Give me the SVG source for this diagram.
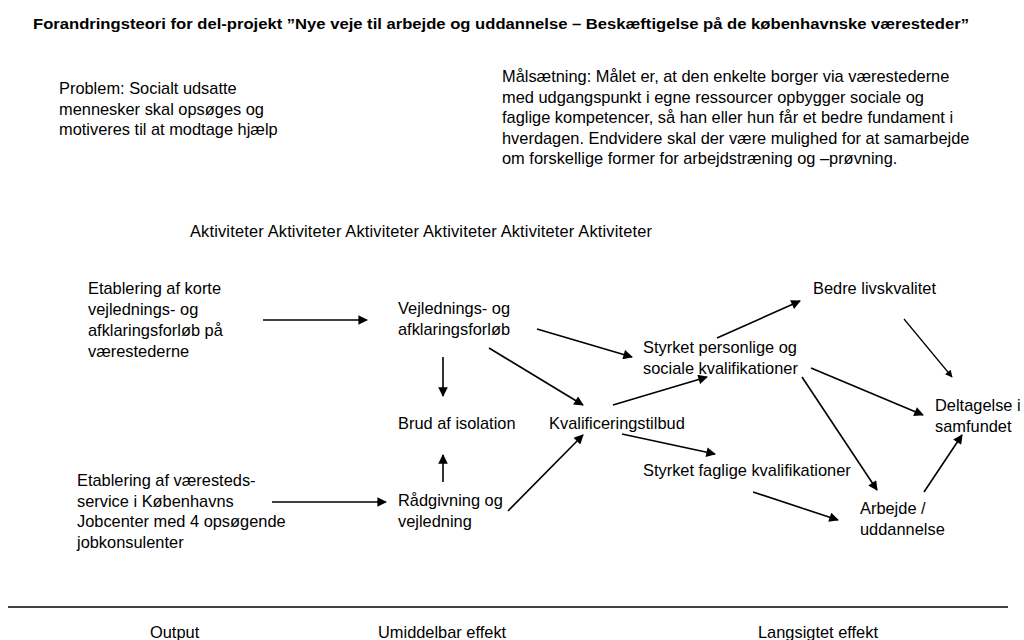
<svg xmlns="http://www.w3.org/2000/svg" width="1024" height="640" viewBox="0 0 1024 640">
<defs>
<style>
text{font-family:"Liberation Sans",Arial,sans-serif;font-size:16.4px;fill:#000}
.title{font-weight:bold;font-size:15px}
.c line{stroke:#000;stroke-width:1.6;marker-end:url(#ah)}
.c line.thin{stroke-width:1.2}
</style>
<marker id="ah" viewBox="0 0 10 10" refX="9" refY="5" markerWidth="7" markerHeight="6" markerUnits="strokeWidth" orient="auto">
<path d="M0,0 L10,5 L0,10 z" fill="#000"/>
</marker>
</defs>
<rect width="1024" height="640" fill="#fff"/>
<text class="title" x="33" y="29" textLength="936" lengthAdjust="spacingAndGlyphs">Forandringsteori for del-projekt ”Nye veje til arbejde og uddannelse – Beskæftigelse på de københavnske væresteder”</text>
<g id="problem"><text x="59" y="94">Problem: Socialt udsatte</text><text x="59" y="114.5">mennesker skal opsøges og</text><text x="59" y="135">motiveres til at modtage hjælp</text></g>
<g id="maal"><text x="502" y="82">Målsætning: Målet er, at den enkelte borger via værestederne</text><text x="502" y="102.5">med udgangspunkt i egne ressourcer opbygger sociale og</text><text x="502" y="123">faglige kompetencer, så han eller hun får et bedre fundament i</text><text x="502" y="143.5">hverdagen. Endvidere skal der være mulighed for at samarbejde</text><text x="502" y="164">om forskellige former for arbejdstræning og –prøvning.</text></g>
<g id="aktiviteter"><text x="190" y="237" textLength="462">Aktiviteter Aktiviteter Aktiviteter Aktiviteter Aktiviteter Aktiviteter</text></g>
<g id="etab1"><text x="88" y="294">Etablering af korte</text><text x="88" y="315">vejlednings- og</text><text x="88" y="336">afklaringsforløb på</text><text x="88" y="357">værestederne</text></g>
<g id="etab2"><text x="77" y="486">Etablering af væresteds-</text><text x="77" y="506.5">service i Københavns</text><text x="77" y="527">Jobcenter med 4 opsøgende</text><text x="77" y="547.5">jobkonsulenter</text></g>
<g id="vejl"><text x="398" y="314">Vejlednings- og</text><text x="398" y="334.5">afklaringsforløb</text></g>
<g id="brud"><text x="398" y="429">Brud af isolation</text></g>
<g id="raad"><text x="398" y="506">Rådgivning og</text><text x="398" y="526.5">vejledning</text></g>
<g id="kval"><text x="549" y="429">Kvalificeringstilbud</text></g>
<g id="personlige"><text x="643" y="353">Styrket personlige og</text><text x="643" y="373.5">sociale kvalifikationer</text></g>
<g id="faglige"><text x="643" y="476">Styrket faglige kvalifikationer</text></g>
<g id="bedre"><text x="813" y="294">Bedre livskvalitet</text></g>
<g id="deltagelse"><text x="935" y="411">Deltagelse i</text><text x="935" y="431.5">samfundet</text></g>
<g id="arbejde"><text x="860" y="514">Arbejde /</text><text x="860" y="534.5">uddannelse</text></g>
<g id="footer"><line x1="8" y1="607" x2="1008" y2="607" stroke="#000" stroke-width="1.3"/><text x="150" y="638">Output</text><text x="378" y="638">Umiddelbar effekt</text><text x="758" y="638">Langsigtet effekt</text></g>
<g class="c" id="connectors">
<line x1="263" y1="320" x2="367" y2="320"/>
<line x1="272" y1="502" x2="386" y2="502"/>
<line x1="443" y1="357" x2="443" y2="396"/>
<line x1="443" y1="482" x2="443" y2="455"/>
<line x1="537" y1="329" x2="632" y2="357"/>
<line x1="489" y1="348" x2="583" y2="405"/>
<line x1="508" y1="511" x2="583" y2="435"/>
<line x1="613" y1="405" x2="707" y2="377"/>
<line x1="622" y1="434" x2="715" y2="454"/>
<line x1="717" y1="338" x2="800" y2="301"/>
<line x1="811" y1="368" x2="923" y2="415"/>
<line x1="802" y1="377" x2="877" y2="490"/>
<line class="thin" x1="904" y1="319" x2="952" y2="377"/>
<line x1="753" y1="492" x2="838" y2="520"/>
<line x1="924" y1="492" x2="962" y2="435"/>
</g>
</svg>
